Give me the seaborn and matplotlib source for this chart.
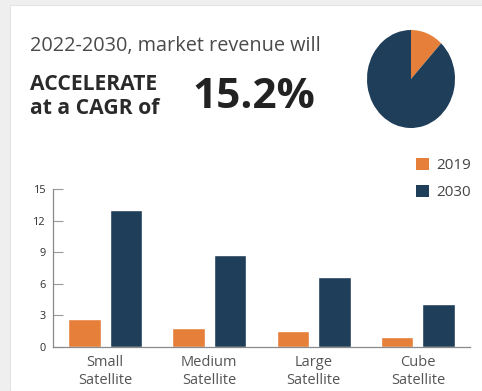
import matplotlib
matplotlib.use("Agg")
import matplotlib.pyplot as plt
from matplotlib.patches import Rectangle, Patch
import seaborn as sns
import pandas as pd

# Data
categories = ["Small\nSatellite", "Medium\nSatellite", "Large\nSatellite", "Cube\nSatellite"]
years = ["2019", "2030"]
revenue_2019 = [2.6, 1.75, 1.45, 0.9]
revenue_2030 = [13.0, 8.7, 6.6, 4.1]
y_ticks = [0, 3, 6, 9, 12, 15]
pie_values = [12, 88]

orange = "#e57f39"
navy = "#1f3e59"

sns.set_theme(style="white")
plt.rcParams["font.family"] = ["Open Sans", "DejaVu Sans"]

W, H = 482, 391
fig = plt.figure(figsize=(W / 100, H / 100), dpi=100, facecolor="#efefef")

def fx(px):
    return px / W

def fy(py):
    return 1 - py / H

# white card behind everything
fig.patches.append(Rectangle((fx(10), 0), 1 - fx(10), fy(5), transform=fig.transFigure,
                             facecolor="white", edgecolor="#e4e4e4", linewidth=0.8, zorder=-10))

# headline text
fig.text(fx(30), fy(51), "2022-2030, market revenue will", fontsize=14.3, color="#4a4a4a",
         va="baseline", ha="left")
fig.text(fx(30), fy(90), "ACCELERATE", fontsize=15.2, fontweight="bold", color="#2a2a2a",
         va="baseline", ha="left")
fig.text(fx(30), fy(114), "at a CAGR of", fontsize=15.2, fontweight="bold", color="#2a2a2a",
         va="baseline", ha="left")
fig.text(fx(192), fy(108.5), "15.2%", fontsize=30.5, fontweight="bold", color="#222222",
         va="baseline", ha="left")

# pie
pax = fig.add_axes([fx(367), fy(128), fx(88), 98 / H])
pax.pie(pie_values, colors=[orange, navy], startangle=90, counterclock=False,
        wedgeprops=dict(linewidth=0))
pax.set_aspect("auto")
pax.set_xlim(-1, 1)
pax.set_ylim(-1, 1)
pax.axis("off")

# bar chart
df = pd.DataFrame({
    "category": categories * 2,
    "year": [years[0]] * 4 + [years[1]] * 4,
    "revenue": revenue_2019 + revenue_2030,
})

ax = fig.add_axes([fx(53), fy(346.7), fx(470 - 53), (346.7 - 189.3) / H])
sns.barplot(data=df, x="category", y="revenue", hue="year", palette=[orange, navy],
            width=0.8, gap=0.22, ax=ax, legend=False, saturation=1)
ax.set_xlim(-0.5, 3.5)
ax.set_ylim(0, 15)
ax.set_yticks(y_ticks)
ax.set_xlabel("")
ax.set_ylabel("")
ax.set_facecolor("none")
for s in ["top", "right"]:
    ax.spines[s].set_visible(False)
for s in ["left", "bottom"]:
    ax.spines[s].set_color("#8a8a8a")
    ax.spines[s].set_linewidth(0.9)
ax.tick_params(axis="y", direction="in", length=7, width=0.8, color="#9a9a9a",
               labelsize=7.8, labelcolor="#2e2e2e", pad=5, left=True)
ax.tick_params(axis="x", length=0, labelsize=10.5, labelcolor="#555555", pad=6)
for lab in ax.get_xticklabels():
    lab.set_linespacing(1.3)

# legend
handles = [Patch(facecolor=orange, edgecolor="none"), Patch(facecolor=navy, edgecolor="none")]
fig.legend(handles, years, loc="upper left", bbox_to_anchor=(fx(416), fy(158)),
           frameon=False, fontsize=11, handlelength=0.85, handleheight=0.85,
           handletextpad=0.5, labelspacing=0.75, borderaxespad=0, borderpad=0,
           labelcolor="#444444")

fig.savefig("out.png", dpi=100, facecolor=fig.get_facecolor())
